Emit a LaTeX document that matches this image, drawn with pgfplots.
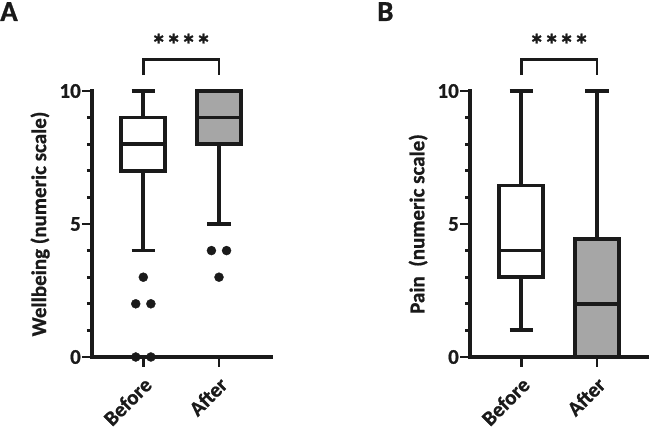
\documentclass[border=0pt]{standalone}
\usepackage{pgfplots}
\pgfplotsset{compat=1.18}
\usepgfplotslibrary{statistics}
\usepackage{fontspec}
\setmainfont{Carlito}[BoldFeatures={FakeBold=0.8}]

\definecolor{ink}{HTML}{1A1A1A}
\definecolor{boxgray}{HTML}{A6A6A6}

\tikzset{
  stars/.style={font=\fontsize{30}{30}\selectfont\bfseries, text=ink},
  panelletter/.style={anchor=north west, inner sep=0pt, font=\fontsize{29}{30}\selectfont\bfseries, text=ink},
}

\pgfplotsset{
  panel/.style={
    scale only axis, width=179pt, height=266pt,
    xmin=0.322, xmax=2.687, ymin=0, ymax=10,
    axis x line*=bottom, axis y line*=left,
    axis line style={line width=3.2pt, draw=ink, -, line cap=rect},
    xtick={1,2}, xticklabels={Before,After},
    ytick={0,5,10}, minor ytick={1,2,3,4,6,7,8,9},
    tick align=outside, major tick length=10pt, minor tick length=5pt,
    every tick/.style={line width=2.8pt, draw=ink},
    every minor tick/.style={line width=2.8pt, draw=ink},
    /pgf/number format/assume math mode=true,
    tick label style={font=\fontsize{21}{24}\selectfont\bfseries, text=ink},
    yticklabel style={inner sep=0pt, xshift=-1pt},
    % shifts below act in the rotated frame of the label
    xticklabel style={rotate=45, anchor=north east, inner sep=0pt, xshift=-6.6pt, yshift=-5.8pt},
    label style={font=\fontsize{21}{24}\selectfont\bfseries, text=ink},
    ylabel style={at={(axis description cs:-0.29,0.5)}, anchor=center},
    boxplot/draw direction=y,
    clip=false,
  },
  box/.style={draw=ink, line width=3.8pt, line join=miter},
  dots/.style={only marks, mark=*, mark size=4.5pt, draw=ink, fill=ink},
  bracket/.style={draw=ink, line width=2.8pt, mark=none},
}

\begin{document}
\begin{tikzpicture}
\useasboundingbox (0pt,0pt) rectangle (649pt,428pt);

% Panel A: wellbeing before and after
\begin{axis}[panel, at={(92pt,71pt)}, anchor=south west,
  ylabel={Wellbeing (numeric scale)}]
  \addplot[box, fill=white, boxplot prepared={draw position=1,
    lower whisker=4, lower quartile=7, median=8,
    upper quartile=9, upper whisker=10,
    box extend=0.58, whisker extend=0.31}] coordinates {};
  \addplot[box, fill=boxgray, boxplot prepared={draw position=2,
    lower whisker=5, lower quartile=8, median=9,
    upper quartile=10, upper whisker=10,
    box extend=0.58, whisker extend=0.31}] coordinates {};
  \addplot[dots] coordinates {(1,3) (0.9,2) (1.1,2) (0.9,0) (1.1,0)};
  \addplot[dots] coordinates {(1.9,4) (2.1,4) (2,3)};
  \addplot[bracket] coordinates {(1,10.6) (1,11.17) (2,11.17) (2,10.6)};
  \node[stars] at (axis cs:1.5,11.75) {****};
\end{axis}

% Panel B: pain before and after
\begin{axis}[panel, at={(470pt,71pt)}, anchor=south west,
  ylabel={Pain\ \ (numeric scale)}]
  \addplot[box, fill=white, boxplot prepared={draw position=1,
    lower whisker=1, lower quartile=3, median=4,
    upper quartile=6.45, upper whisker=10,
    box extend=0.58, whisker extend=0.31}] coordinates {};
  \addplot[box, fill=boxgray, boxplot prepared={draw position=2,
    lower whisker=0, lower quartile=0, median=2,
    upper quartile=4.45, upper whisker=10,
    box extend=0.58, whisker extend=0.31}] coordinates {};
  \addplot[bracket] coordinates {(1,10.6) (1,11.17) (2,11.17) (2,10.6)};
  \node[stars] at (axis cs:1.5,11.75) {****};
\end{axis}

\node[panelletter] at (0pt,426pt) {A};
\node[panelletter] at (377pt,426pt) {B};
\end{tikzpicture}
\end{document}
